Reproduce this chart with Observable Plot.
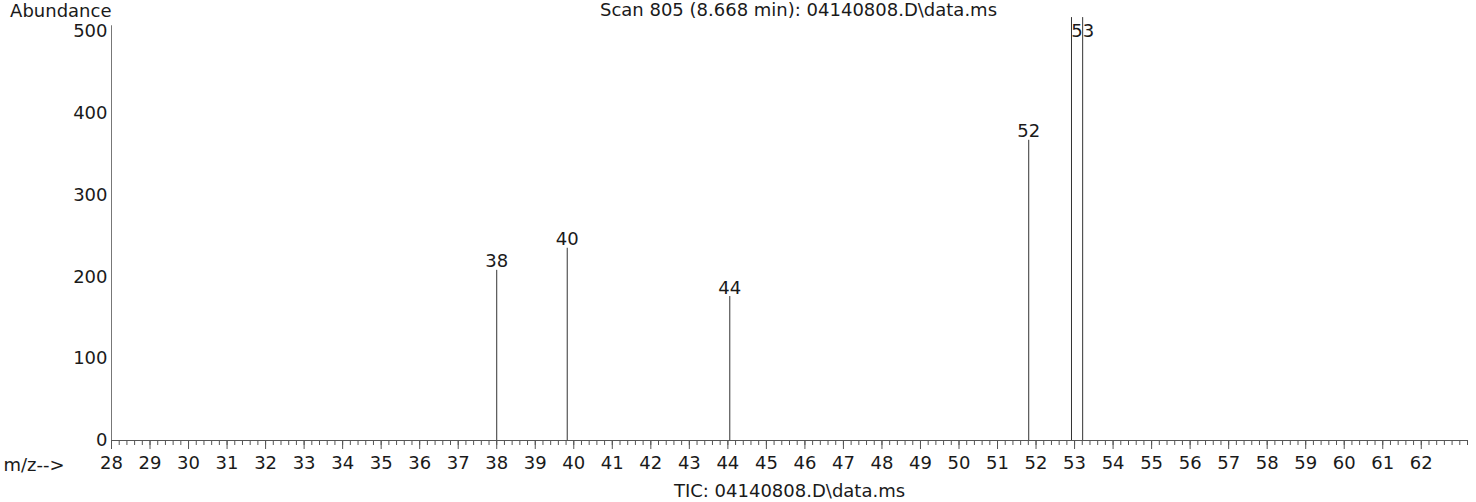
<!DOCTYPE html>
<html>
<head>
<meta charset="utf-8">
<script src="https://cdn.jsdelivr.net/npm/d3@7"></script>
<script src="https://cdn.jsdelivr.net/npm/@observablehq/plot@0.6"></script>
<style>
  html, body { margin: 0; padding: 0; background: #fff; }
  svg { display: block; }
</style>
</head>
<body>
<div id="chart"></div>
<script>
// Data
const mz = [38.0, 39.83, 44.05, 51.81, 52.92, 53.21];
const abundance = [208, 235, 176, 367, 517, 517];
const peakLabels = ["38", "40", "44", "52", "", "53"];
const yTicks = [0, 100, 200, 300, 400, 500];
const xMajorTicks = d3.range(28, 63, 1);
const xMinorTicks = d3.range(0, 177).map(i => 28 + i * 0.2);
const titleText = "Scan 805 (8.668 min): 04140808.D\\data.ms";
const yLabelText = "Abundance";
const xLabelText = "m/z-->";
const captionText = "TIC: 04140808.D\\data.ms";

const peaks = mz.map((m, i) => ({mz: m, abundance: abundance[i], label: peakLabels[i]}));

const font = "DejaVu Sans";
const ink = "#1a1a1a";
const fs = 18;

const chart = Plot.plot({
  width: 1476,
  height: 502,
  marginLeft: 111,
  marginRight: 9,
  marginTop: 31,
  marginBottom: 62,
  style: {fontFamily: font, fontSize: fs + "px", color: ink, background: "#fff"},
  x: {domain: [28, 63.2]},
  y: {domain: [0, 500]},
  marks: [
    Plot.axisX(xMinorTicks, {tickSize: 5, tickFormat: () => "", label: null, stroke: "#555"}),
    Plot.axisX(xMajorTicks, {tickSize: 9, tickPadding: 7, label: null, stroke: "#555", fontSize: fs, fill: ink}),
    Plot.axisY(yTicks, {tickSize: 0, tickPadding: 4, label: null, fontSize: fs, fill: ink}),
    Plot.ruleY([0], {x1: 28, x2: 63.2, stroke: "#555", strokeWidth: 1}),
    Plot.ruleX([28], {y1: 0, y2: 507, stroke: "#777", strokeWidth: 1}),
    Plot.ruleX(peaks, {x: "mz", y1: 0, y2: "abundance", stroke: "#333", strokeWidth: 1}),
    Plot.text(peaks, {x: "mz", y: d => Math.min(d.abundance, 490), text: "label",
      lineAnchor: "bottom", dy: -3, fontSize: fs, fill: ink}),
    Plot.text([titleText], {frameAnchor: "top", lineAnchor: "middle", dx: 9, dy: -21, fontSize: fs, fill: ink}),
    Plot.text([yLabelText], {frameAnchor: "top-left", lineAnchor: "middle", textAnchor: "end", dy: -20, fontSize: fs, fill: ink}),
    Plot.text([xLabelText], {frameAnchor: "bottom-left", lineAnchor: "middle", textAnchor: "start", dx: -108, dy: 25, fontSize: fs, fill: ink}),
    Plot.text([captionText], {frameAnchor: "bottom", lineAnchor: "middle", dy: 51, fontSize: fs, fill: ink})
  ]
});

document.getElementById("chart").appendChild(chart);
</script>
</body>
</html>
